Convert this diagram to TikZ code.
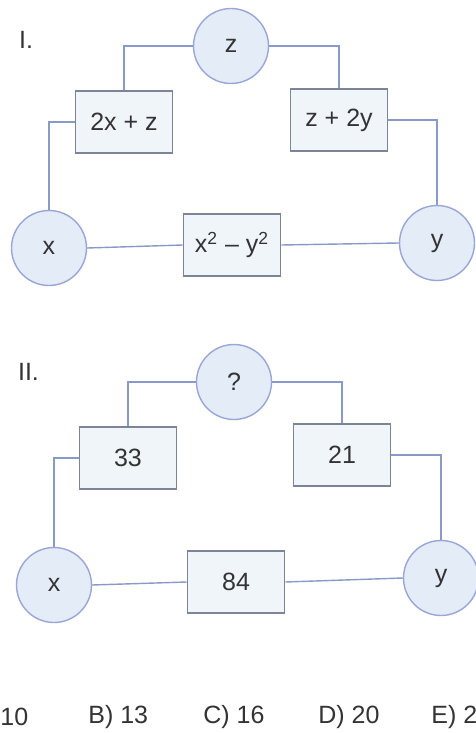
\documentclass[tikz,border=0pt]{standalone}
\usepackage{fontspec}
\setmainfont{Liberation Sans}
\usetikzlibrary{positioning}
\definecolor{circfill}{HTML}{E4ECF7}
\definecolor{circline}{HTML}{9AA6D6}
\definecolor{boxfill}{HTML}{F0F5FA}
\definecolor{boxline}{HTML}{7C8496}
\definecolor{wire}{HTML}{8A9AC8}
\definecolor{ink}{HTML}{333333}

\begin{document}
\begin{tikzpicture}[
    x=0.5pt, y=-0.5pt,
    font=\fontsize{12.5}{15}\selectfont, text=ink,
    circ/.style={circle, draw=circline, fill=circfill, line width=0.7pt,
                 minimum size=37.5pt, inner sep=0pt},
    box/.style={draw=boxline, fill=boxfill, line width=0.8pt,
                minimum width=48.5pt, minimum height=31pt, inner sep=2pt},
    wire/.style={draw=wire, line width=0.7pt}]
  \useasboundingbox (0,0) rectangle (476,733);
  % I.
  \node[anchor=west] (lbl1) at (12,40) {I.};
  \node[circ] (z1) at (231,46) {z};
  \node[box] (zx1) at (124,122) {2x + z};
  \node[box] (zy1) at (339,120) {z + 2y};
  \node[circ] (x1) at (49,248) {x};
  \node[circ] (y1) at (437,243) {y};
  \node[box] (xy1) at (232,245) {x\textsuperscript{2} – y\textsuperscript{2}};
  \draw[wire] (z1.west) -| (zx1.north);
  \draw[wire] (z1.east) -| (zy1.north);
  \draw[wire] (zx1.west) -| (x1.north);
  \draw[wire] (zy1.east) -| (y1.north);
  \draw[wire] (x1.east) -- (xy1.west);
  \draw[wire] (xy1.east) -- (y1.west);
  % II.
  \node[anchor=west] (lbl2) at (11,372) {II.};
  \node[circ] (z2) at (234,382) {?};
  \node[box] (zx2) at (128,458) {33};
  \node[box] (zy2) at (342,455) {21};
  \node[circ] (x2) at (54,585) {x};
  \node[circ] (y2) at (441,578) {y};
  \node[box] (xy2) at (236,582) {84};
  \draw[wire] (z2.west) -| (zx2.north);
  \draw[wire] (z2.east) -| (zy2.north);
  \draw[wire] (zx2.west) -| (x2.north);
  \draw[wire] (zy2.east) -| (y2.north);
  \draw[wire] (x2.east) -- (xy2.west);
  \draw[wire] (xy2.east) -- (y2.west);
  % choices
  \node[anchor=west, inner sep=0pt] (optA) at (0,717) {10};
  \node[anchor=west, inner sep=0pt] (optB) at (88,717) {B) 13};
  \node[anchor=west, inner sep=0pt] (optC) at (203,717) {C) 16};
  \node[anchor=west, inner sep=0pt] (optD) at (318,717) {D) 20};
  \node[anchor=west, inner sep=0pt] (optE) at (431,717) {E) 21};
\end{tikzpicture}
\end{document}
